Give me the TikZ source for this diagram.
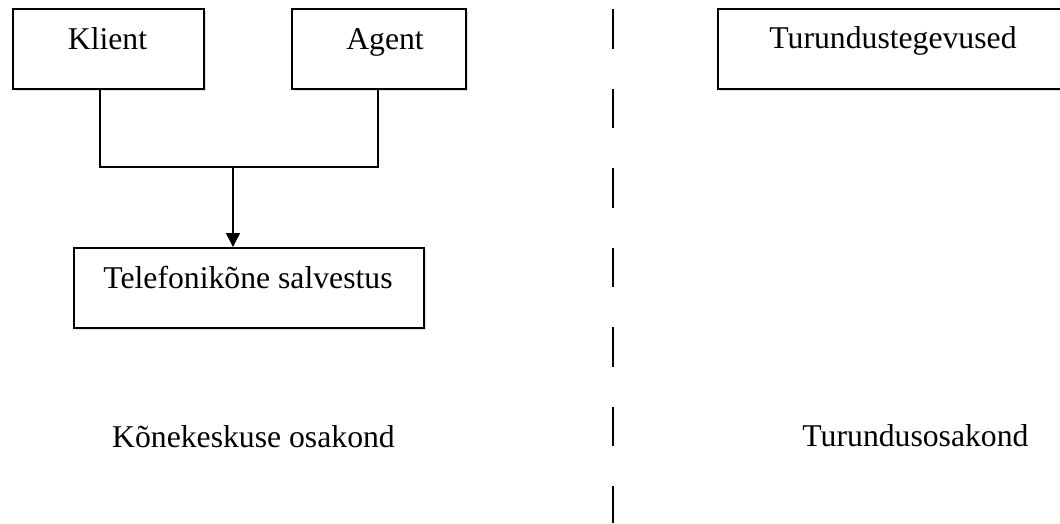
\documentclass[tikz,border=0pt]{standalone}
\usepackage{fontspec}
\setmainfont{Liberation Serif}
\usetikzlibrary{arrows.meta,shadows}
\tikzset{
  box/.style={draw=black, line width=1.5pt, fill=white, rectangle, inner sep=0pt, anchor=north west,
    drop shadow={opacity=0.25, shadow xshift=2pt, shadow yshift=-2pt}},
  lbl/.style={font=\fontsize{31.7}{38}\selectfont, inner sep=0pt, anchor=base},
  conn/.style={line width=1.5pt},
  divider/.style={line width=1.5pt, dash pattern=on 39.5pt off 40pt}
}
\begin{document}
\begin{tikzpicture}[x=1pt,y=1pt]
\clip (0,0) rectangle (1060,-523);
\useasboundingbox (0,0) rectangle (1060,-523);
\node[box, minimum width=191pt, minimum height=80pt] (klient) at (12,-8) {};
\node[box, minimum width=174pt, minimum height=80pt] (agent) at (291,-8) {};
\node[box, minimum width=360pt, minimum height=80pt] (turund) at (717,-8) {};
\node[box, minimum width=350pt, minimum height=80pt] (tel) at (73,-247) {};
\node[lbl] (tklient) at (107.5,-49) {Klient};
\node[lbl] (tagent) at (385,-49) {Agent};
\node[lbl] (tturund) at (893,-48) {Turundustegevused};
\node[lbl] (ttel) at (248,-288) {Telefonikõne salvestus};
\node[lbl] (kone) at (253.5,-447) {Kõnekeskuse osakond};
\node[lbl] (turosa) at (915.5,-446) {Turundusosakond};
\coordinate (kl) at (100,-88);
\coordinate (ag) at (378,-88);
\coordinate (j) at (233,-167);
\draw[conn] (kl) |- (j) -| (ag);
\draw[conn, -{Triangle[width=14pt,length=14pt]}] (j) -- (j |- tel.north);
\coordinate (dtop) at (613,-9);
\coordinate (dbot) at (613,-523);
\draw[divider] (dtop) -- (dbot);
\end{tikzpicture}
\end{document}
